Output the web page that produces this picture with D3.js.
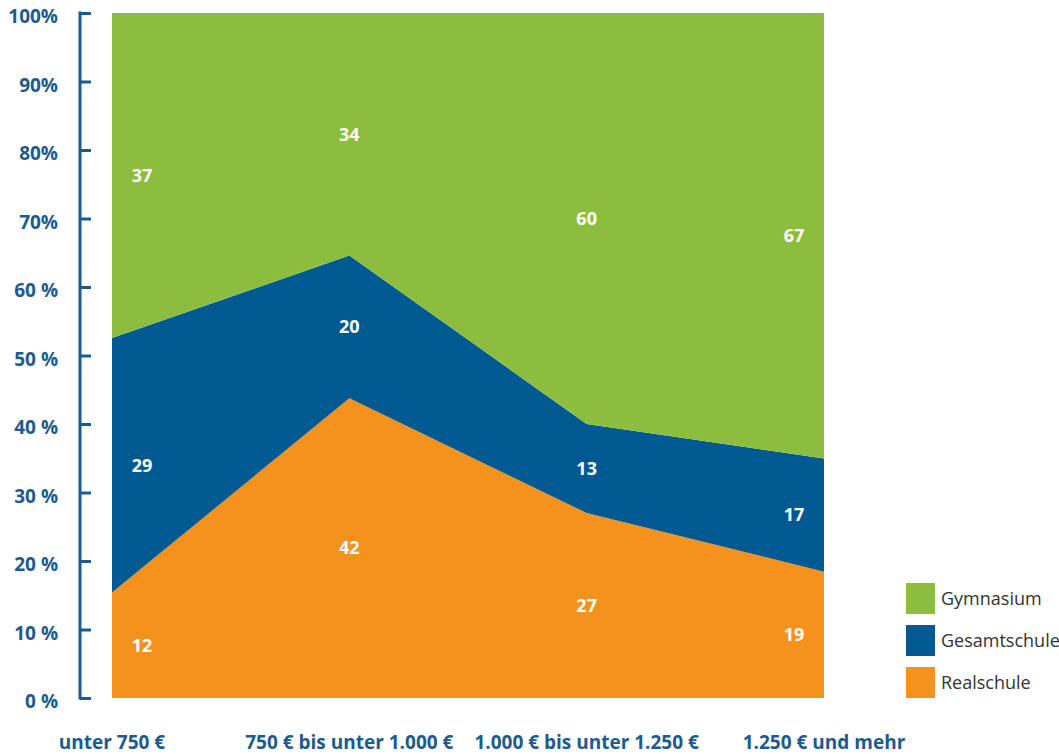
<!DOCTYPE html>
<html>
<head>
<meta charset="utf-8">
<script src="https://cdn.jsdelivr.net/npm/d3@7"></script>
<style>
  html, body { margin: 0; padding: 0; background: #fff; }
  svg { display: block; }
</style>
</head>
<body>
<svg id="chart" width="1059" height="754"></svg>
<script>
// Einkommensgruppen (Haushaltsnettoeinkommen)
const categories = ["unter 750 €", "750 € bis unter 1.000 €", "1.000 € bis unter 1.250 €", "1.250 € und mehr"];
// Anteile je Schulform in Prozent
const realschule   = [12, 42, 27, 19];
const gesamtschule = [29, 20, 13, 17];
const gymnasium    = [37, 34, 60, 67];
const seriesNames  = ["Realschule", "Gesamtschule", "Gymnasium"];
const tickValues   = [0, 0.1, 0.2, 0.3, 0.4, 0.5, 0.6, 0.7, 0.8, 0.9, 1];
const tickLabels   = ["0 %", "10 %", "20 %", "30 %", "40 %", "50 %", "60 %", "70%", "80%", "90%", "100%"];

const colors = { Realschule: "#f5921e", Gesamtschule: "#005a91", Gymnasium: "#8dbd3f" };
const axisBlue = "#1b5b8f";
const fontFamily = "'Open Sans', 'Noto Sans', sans-serif";

const rows = categories.map((c, i) => ({
  cat: c, Realschule: realschule[i], Gesamtschule: gesamtschule[i], Gymnasium: gymnasium[i]
}));

const svg = d3.select("#chart");
const plot = { left: 112, right: 824, top: 13, bottom: 698 };

const x = d3.scalePoint().domain(categories).range([plot.left, plot.right]);
const y = d3.scaleLinear().domain([0, 1]).range([plot.bottom, plot.top]);

// 100-%-Stapel: jede Einkommensgruppe summiert sich auf 100 %
const stacked = d3.stack().keys(seriesNames).offset(d3.stackOffsetExpand)(rows);

const area = d3.area()
  .x(d => x(d.data.cat))
  .y0(d => y(d[0]))
  .y1(d => y(d[1]));

svg.append("g").selectAll("path")
  .data(stacked)
  .join("path")
  .attr("d", area)
  .attr("fill", d => colors[d.key]);

// Werte in den Flächen
const inset = 30;
const labelG = svg.append("g")
  .attr("font-family", fontFamily)
  .attr("font-weight", 700)
  .attr("font-size", 18)
  .attr("fill", "#fff")
  .attr("text-anchor", "middle");

stacked.forEach(layer => {
  layer.forEach((d, i) => {
    let px = x(d.data.cat);
    if (i === 0) px += inset;
    if (i === categories.length - 1) px -= inset;
    labelG.append("text")
      .attr("x", px)
      .attr("y", y((d[0] + d[1]) / 2))
      .attr("dy", "0.35em")
      .text(d.data[layer.key]);
  });
});

// y-Achse
const yAxis = d3.axisLeft(y)
  .tickValues(tickValues)
  .tickSize(11)
  .tickPadding(22)
  .tickFormat((d, i) => tickLabels[i]);

const gAxis = svg.append("g")
  .attr("transform", "translate(91,0)")
  .call(yAxis);
gAxis.select(".domain").remove();
gAxis.selectAll(".tick line").attr("stroke", axisBlue).attr("stroke-width", 3);
gAxis.selectAll(".tick text")
  .attr("fill", axisBlue)
  .attr("font-family", fontFamily)
  .attr("font-weight", 700)
  .attr("font-size", 19)
  .attr("dy", "0.5em");
gAxis.append("line")
  .attr("x1", -11).attr("x2", -11)
  .attr("y1", y(1) - 1.5).attr("y2", y(0) + 1.5)
  .attr("stroke", axisBlue).attr("stroke-width", 3);

// Kategorien unter der Grafik
svg.append("g").selectAll("text")
  .data(categories)
  .join("text")
  .attr("x", d => x(d))
  .attr("y", 749)
  .attr("text-anchor", "middle")
  .attr("font-family", fontFamily)
  .attr("font-weight", 700)
  .attr("font-size", 19)
  .attr("fill", axisBlue)
  .text(d => d);

// Legende
const legendItems = seriesNames.slice().reverse();
const legend = svg.append("g").attr("transform", "translate(906,583)");
const item = legend.selectAll("g")
  .data(legendItems)
  .join("g")
  .attr("transform", (d, i) => `translate(0,${i * 42})`);
item.append("rect")
  .attr("width", 29).attr("height", 31)
  .attr("fill", d => colors[d]);
item.append("text")
  .attr("x", 35).attr("y", 16)
  .attr("dy", "0.35em")
  .attr("font-family", fontFamily)
  .attr("font-weight", 400)
  .attr("font-size", 18)
  .attr("fill", "#333")
  .text(d => d);
</script>
</body>
</html>
